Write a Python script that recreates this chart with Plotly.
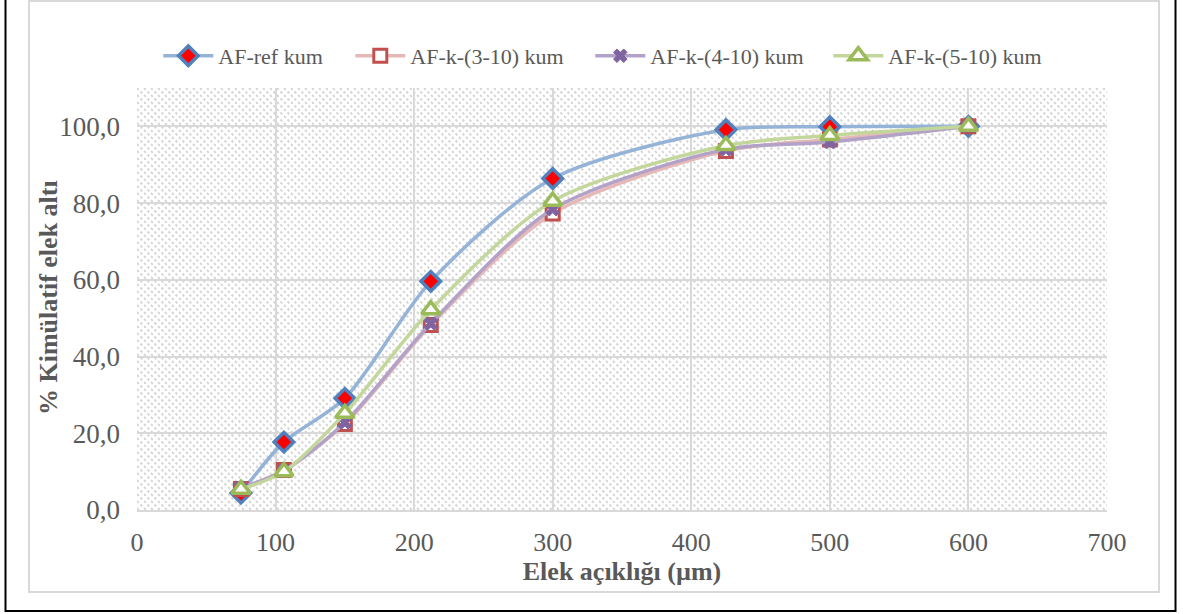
import base64
import plotly.graph_objects as go

sieve = [75, 106, 150, 212, 300, 425, 500, 600]
af_ref = [4.4, 17.7, 29.1, 59.6, 86.4, 99.1, 99.9, 100.0]
af_3_10 = [5.5, 10.4, 22.4, 48.2, 77.3, 93.6, 96.6, 100.0]
af_4_10 = [5.8, 10.2, 22.8, 48.6, 78.4, 94.0, 95.9, 100.0]
af_5_10 = [5.4, 10.0, 25.2, 52.2, 80.5, 95.0, 97.6, 100.0]

x_range = [0, 700]
y_range = [0, 110]

font_family = "Liberation Serif, Times New Roman, serif"

# hatched background texture (below the grid)
svg = (
    '<svg xmlns="http://www.w3.org/2000/svg" width="970" height="422" viewBox="0 0 970 422" '
    'preserveAspectRatio="none">'
    '<defs><pattern id="p" width="7" height="7" patternUnits="userSpaceOnUse">'
    '<g stroke="#d3d3d3" stroke-width="1.8" stroke-dasharray="2.5,2.45">'
    '<line x1="0" y1="0" x2="7" y2="7"/>'
    '<line x1="-3.5" y1="3.5" x2="3.5" y2="10.5"/>'
    '<line x1="3.5" y1="-3.5" x2="10.5" y2="3.5"/>'
    '</g></pattern></defs><rect width="970" height="422" fill="white"/>'
    '<rect width="970" height="422" fill="url(#p)"/></svg>'
)
svg_uri = "data:image/svg+xml;base64," + base64.b64encode(svg.encode()).decode()

fig = go.Figure()

series = [
    ("AF-ref kum", af_ref, "#95b3d7", dict(symbol="diamond", size=15, color="red", line=dict(color="#4f81bd", width=3.5)), "legend"),
    ("AF-k-(3-10) kum", af_3_10, "#e6b9b8", dict(symbol="square", size=13, color="white", line=dict(color="#c0504d", width=3)), "legend2"),
    ("AF-k-(4-10) kum", af_4_10, "#b3a2c7", dict(symbol="x", size=12, color="#8064a2", line=dict(color="#8064a2", width=1)), "legend3"),
    ("AF-k-(5-10) kum", af_5_10, "#c3d69b", dict(symbol="triangle-up", size=16, color="white", line=dict(color="#9bbb59", width=3.5)), "legend4"),
]

for name, vals, lc, mk, lg in series:
    fig.add_trace(go.Scatter(
        x=sieve, y=vals, name=name, mode="lines+markers",
        line=dict(color=lc, width=3.5, shape="spline", smoothing=0.8),
        marker=mk, legend=lg, showlegend=True,
    ))

fig.add_layout_image(dict(
    source=svg_uri, xref="x", yref="y", x=x_range[0], y=y_range[1],
    sizex=x_range[1] - x_range[0], sizey=y_range[1] - y_range[0],
    sizing="stretch", xanchor="left", yanchor="top", layer="below",
))

legend_starts = [165, 357, 597, 835]
legend_common = dict(orientation="h", xanchor="left", y=1.076, yanchor="middle",
                     font=dict(size=22, color="#595959", family=font_family),
                     itemwidth=50, bgcolor="rgba(0,0,0,0)")
legend_layout = {}
for i, px in enumerate(legend_starts):
    key = "legend" if i == 0 else f"legend{i + 1}"
    legend_layout[key] = dict(legend_common, x=(px - 6.7 - 137) / 970)

fig.update_layout(
    width=1192, height=614,
    margin=dict(l=137, r=85, t=88, b=104),
    paper_bgcolor="white", plot_bgcolor="white",
    font=dict(family=font_family, color="#595959", size=26),
    separators=",.",
    showlegend=True,
    **legend_layout,
    xaxis=dict(range=x_range, dtick=100, tick0=0, showgrid=True, gridcolor="#d9d9d9", gridwidth=2,
               zeroline=False, showline=True, linecolor="#d9d9d9", linewidth=2,
               ticks="", ticklabelstandoff=8,
               tickfont=dict(size=26, color="#595959", family=font_family),
               title=dict(text="<b>Elek açıklığı (µm)</b>", font=dict(size=26, color="#595959", family=font_family), standoff=4)),
    yaxis=dict(range=y_range, tickvals=[0, 20, 40, 60, 80, 100], tickformat=".1f",
               showgrid=True, gridcolor="#d9d9d9", gridwidth=2,
               zeroline=False, showline=False, ticks="", ticklabelstandoff=16,
               tickfont=dict(size=27, color="#595959", family=font_family)),
)

fig.add_annotation(text="<b>% Kimülatif elek altı</b>", xref="paper", yref="paper",
                   x=(48 - 137) / 970, y=(510 - 298) / 422, xanchor="center", yanchor="middle",
                   textangle=-90, showarrow=False,
                   font=dict(size=26, color="#595959", family=font_family))

# outer frames
fig.add_shape(type="rect", xref="paper", yref="paper",
              x0=(29 - 137) / 970, x1=(1159 - 137) / 970,
              y0=(510 - 592) / 422, y1=(510 - 1) / 422,
              line=dict(color="#d9d9d9", width=2), layer="below")
fig.add_shape(type="rect", xref="paper", yref="paper",
              x0=(5.5 - 137) / 970, x1=(1175.5 - 137) / 970,
              y0=(510 - 611) / 422, y1=(510 + 5) / 422,
              line=dict(color="black", width=2), layer="below")

fig.write_html("out.html")
